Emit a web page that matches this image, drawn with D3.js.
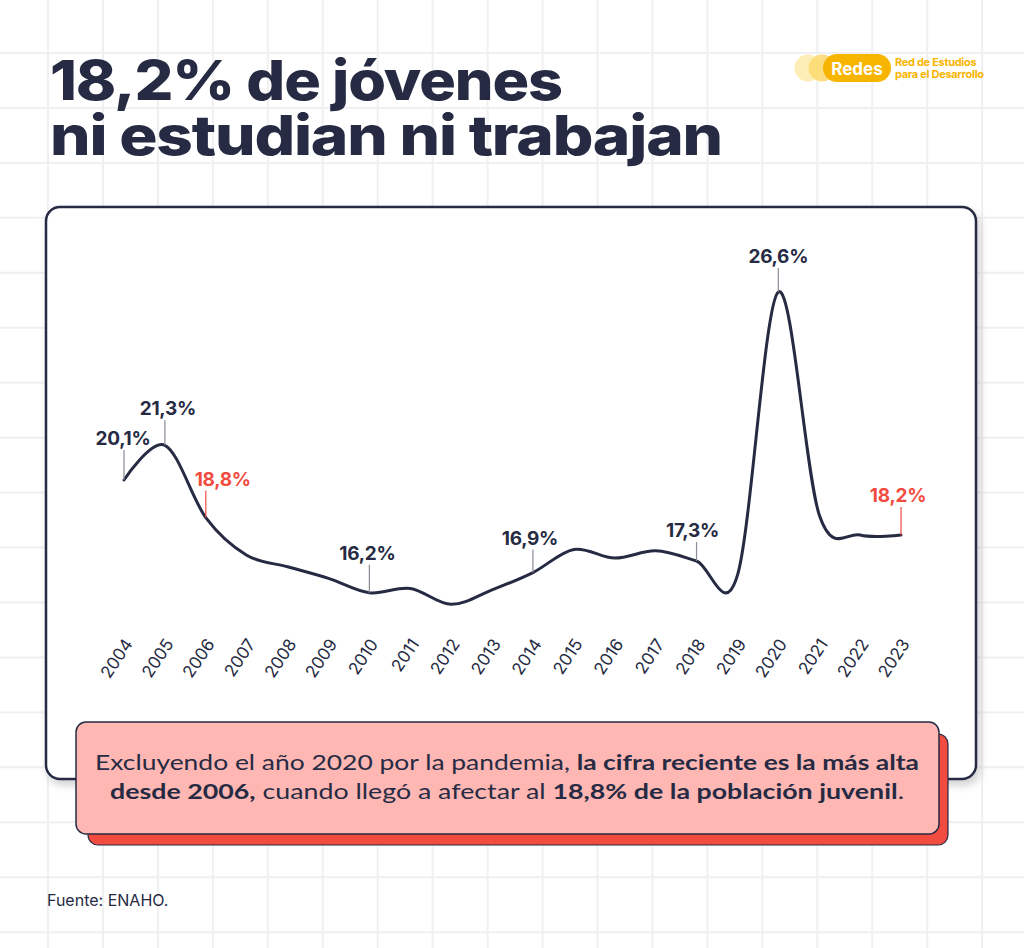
<!DOCTYPE html>
<html>
<head>
<meta charset="utf-8">
<script src="https://cdn.jsdelivr.net/npm/d3@7"></script>
<style>
  html, body { margin: 0; padding: 0; background: #fff; }
  svg { display: block; }
</style>
</head>
<body>
<div id="chart"></div>
<script>
// datos (ENAHO), % de jóvenes que ni estudian ni trabajan
const years = [2004, 2005, 2006, 2007, 2008, 2009, 2010, 2011, 2012, 2013,
               2014, 2015, 2016, 2017, 2018, 2019, 2020, 2021, 2022, 2023];
const values = [20.1, 21.3, 18.8, 17.5, 17.1, 16.7, 16.2, 16.35, 15.8, 16.3,
                16.9, 17.7, 17.4, 17.65, 17.3, 16.8, 26.6, 18.9, 18.2, 18.2];
const labelYears = [2004, 2005, 2006, 2010, 2014, 2018, 2020, 2023];
const redYears = [2006, 2023];
const title = ['18,2% de jóvenes', 'ni estudian ni trabajan'];
const noteLines = [
  [['Excluyendo el año 2020 por la pandemia, ', 400], ['la cifra reciente es la más alta', 700]],
  [['desde 2006,', 700], [' cuando llegó a afectar al ', 400], ['18,8% de la población juvenil', 700], ['.', 400]]
];
const source = 'Fuente: ENAHO.';

const W = 1024, H = 948;
const navy = '#262b43', red = '#f24b40';

const svg = d3.select('#chart').append('svg')
  .attr('width', W).attr('height', H);

const defs = svg.append('defs');
const sh = defs.append('filter').attr('id', 'shadow')
  .attr('x', '-5%').attr('y', '-5%').attr('width', '115%').attr('height', '115%');
sh.append('feDropShadow').attr('dx', 3).attr('dy', 5).attr('stdDeviation', 4)
  .attr('flood-color', '#000').attr('flood-opacity', 0.18);

// cuadricula de fondo
const grid = svg.append('g').attr('stroke', '#f0f0f2').attr('stroke-width', 2);
grid.selectAll('line.v').data(d3.range(48, W, 54.95)).enter().append('line')
  .attr('x1', d => d).attr('x2', d => d).attr('y1', 0).attr('y2', H);
grid.selectAll('line.h').data(d3.range(53, H, 54.95)).enter().append('line')
  .attr('y1', d => d).attr('y2', d => d).attr('x1', 0).attr('x2', W);

// titulo
svg.selectAll('text.title').data(title).enter().append('text')
  .attr('x', 50).attr('y', (d, i) => 100 + i * 55)
  .attr('textLength', (d, i) => i ? 672 : 512)
  .attr('lengthAdjust', 'spacingAndGlyphs')
  .style('font-family', 'Inter, sans-serif').style('font-weight', 800)
  .style('font-size', '55px').style('letter-spacing', '-1px').attr('fill', navy)
  .text(d => d);

// logo
const logo = svg.append('g');
logo.append('circle').attr('cx', 808).attr('cy', 68).attr('r', 13.5).attr('fill', '#fdeeb8');
logo.append('circle').attr('cx', 822).attr('cy', 68).attr('r', 13.5).attr('fill', '#fcd96e').attr('opacity', 0.85);
logo.append('rect').attr('x', 823).attr('y', 54).attr('width', 68).attr('height', 28)
  .attr('rx', 14).attr('fill', '#f8b500');
logo.append('text').attr('x', 857).attr('y', 74.5).attr('text-anchor', 'middle')
  .style('font-family', 'Inter, sans-serif').style('font-weight', 700).style('font-size', '17px')
  .attr('fill', '#fff').text('Redes');
logo.selectAll('text.sub').data(['Red de Estudios', 'para el Desarrollo']).enter().append('text')
  .attr('x', 895).attr('y', (d, i) => 66 + i * 12)
  .style('font-family', 'Inter, sans-serif').style('font-weight', 700).style('font-size', '11px')
  .style('letter-spacing', '-0.3px')
  .attr('fill', '#f8b500').text(d => d);

// tarjeta
svg.append('rect').attr('x', 46).attr('y', 207).attr('width', 930).attr('height', 572)
  .attr('rx', 14).attr('fill', '#fff').attr('stroke', navy).attr('stroke-width', 2.5)
  .attr('filter', 'url(#shadow)');

// escalas
const x = d3.scaleLinear().domain([2004, 2023]).range([124, 901]);
const y = d3.scaleLinear().domain([15, 27]).range([627.5, 280.4]);

const data = years.map((yr, i) => ({ year: yr, value: values[i] }));

const line = d3.line()
  .x(d => x(d.year)).y(d => y(d.value))
  .curve(d3.curveCatmullRom.alpha(0));

svg.append('path').datum(data)
  .attr('d', line).attr('fill', 'none')
  .attr('stroke', navy).attr('stroke-width', 3)
  .attr('stroke-linejoin', 'round').attr('stroke-linecap', 'round');

// anotaciones
const leadLen = { 2004: 30, 2005: 25, 2006: 27, 2010: 28, 2014: 23, 2018: 19, 2020: 24, 2023: 28 };
const labelDx = { 2004: -1, 2005: 3, 2006: 17, 2010: -2, 2014: -3, 2018: -4, 2020: 0, 2023: -3 };
const fmt = v => d3.format('.1f')(v).replace('.', ',') + '%';

const ann = svg.append('g').selectAll('g')
  .data(data.filter(d => labelYears.includes(d.year))).enter().append('g');
ann.append('line')
  .attr('x1', d => x(d.year)).attr('x2', d => x(d.year))
  .attr('y1', d => y(d.value)).attr('y2', d => y(d.value) - leadLen[d.year])
  .attr('stroke', d => redYears.includes(d.year) ? red : '#8a8c96').attr('stroke-width', 1.2);
ann.append('text')
  .attr('x', d => x(d.year) + labelDx[d.year])
  .attr('y', d => y(d.value) - leadLen[d.year] - 5)
  .attr('text-anchor', 'middle')
  .style('font-family', 'Inter, sans-serif').style('font-weight', 700).style('font-size', '19px')
  .style('letter-spacing', '-0.3px')
  .attr('fill', d => redYears.includes(d.year) ? red : navy)
  .text(d => fmt(d.value));

// eje x
const xAxis = svg.append('g').attr('transform', 'translate(0,640)')
  .call(d3.axisBottom(x).tickValues(years).tickFormat(d3.format('d')).tickSize(0));
xAxis.select('.domain').remove();
xAxis.selectAll('text')
  .attr('fill', navy)
  .style('font-family', 'Inter, sans-serif').style('font-weight', 400).style('font-size', '17px')
  .attr('text-anchor', 'end')
  .attr('dy', null).attr('y', 0)
  .attr('transform', 'translate(9,4) rotate(-56)');

// recuadro de nota
svg.append('rect').attr('x', 88).attr('y', 734).attr('width', 860).attr('height', 111)
  .attr('rx', 10).attr('fill', red).attr('stroke', navy).attr('stroke-width', 1.2);
svg.append('rect').attr('x', 76).attr('y', 722).attr('width', 863).attr('height', 112)
  .attr('rx', 10).attr('fill', '#ffb7b3').attr('stroke', navy).attr('stroke-width', 1.5);

const note = svg.selectAll('text.note').data(noteLines).enter().append('text')
  .attr('x', 507).attr('y', (d, i) => 770 + i * 29)
  .attr('text-anchor', 'middle')
  .attr('textLength', (d, i) => i ? 794 : 824)
  .attr('lengthAdjust', 'spacingAndGlyphs')
  .style('font-family', 'Lato, sans-serif').style('font-size', '21px')
  .attr('fill', navy);
note.selectAll('tspan').data(d => d).enter().append('tspan')
  .style('font-weight', d => d[1])
  .text(d => d[0]);

// fuente
svg.append('text').attr('x', 47).attr('y', 906)
  .style('font-family', 'Inter, sans-serif').style('font-size', '16px')
  .attr('fill', navy).text(source);
</script>
</body>
</html>
